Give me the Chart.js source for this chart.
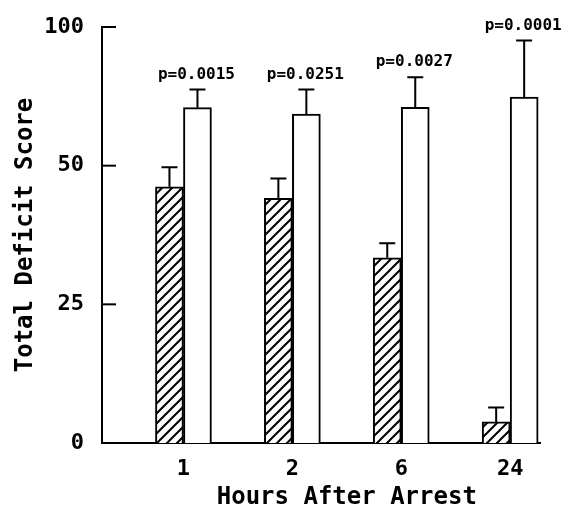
<!DOCTYPE html>
<html>
<head>
<meta charset="utf-8">
<script src="https://cdn.jsdelivr.net/npm/chart.js@4.4.1/dist/chart.umd.min.js"></script>
<style>
    body { margin: 0; background: #fff; }
    #chart { display: block; }
</style>
</head>
<body>
<canvas id="chart" width="565" height="513"></canvas>
<script>
const hours = ['1', '2', '6', '24'];
const yTickLabels = [0, 25, 50, 100];
const hatchedMeans = [46.2, 44.1, 33.4, 3.8];
const hatchedErr = [3.5, 3.6, 2.6, 2.6];
const openMeans = [70.9, 68.6, 71.0, 74.7];
const openErr = [6.6, 8.9, 10.9, 20.4];
const pValues = ['p=0.0015', 'p=0.0251', 'p=0.0027', 'p=0.0001'];
const xTitle = 'Hours After Arrest';

const FONT = "'DejaVu Sans Mono', monospace";

// the y axis labels 0, 25, 50, 100 sit at equal spacing, so map values piecewise
function toAxis(v) {
    for (let i = 0; i < yTickLabels.length - 1; i++) {
        const a = yTickLabels[i], b = yTickLabels[i + 1];
        if (v <= b || i === yTickLabels.length - 2) {
            return i + (v - a) / (b - a);
        }
    }
    return 0;
}

function makeHatch() {
    const s = 10;
    const c = document.createElement('canvas');
    c.width = s;
    c.height = s;
    const g = c.getContext('2d');
    g.fillStyle = '#fff';
    g.fillRect(0, 0, s, s);
    g.strokeStyle = '#000';
    g.lineWidth = 2;
    g.beginPath();
    g.moveTo(-1, s + 1); g.lineTo(s + 1, -1);
    g.moveTo(-1, 1); g.lineTo(1, -1);
    g.moveTo(s - 1, s + 1); g.lineTo(s + 1, s - 1);
    g.stroke();
    return g.createPattern(c, 'repeat');
}

const errorBars = {
    id: 'errorBars',
    afterDatasetsDraw(chart) {
        const ctx = chart.ctx;
        const yScale = chart.scales.y;
        const sets = [[hatchedMeans, hatchedErr], [openMeans, openErr]];
        ctx.save();
        ctx.strokeStyle = '#000';
        ctx.lineWidth = 2;
        sets.forEach(([means, errs], d) => {
            chart.getDatasetMeta(d).data.forEach((bar, i) => {
                const top = yScale.getPixelForValue(toAxis(means[i] + errs[i]));
                ctx.beginPath();
                ctx.moveTo(bar.x, bar.y);
                ctx.lineTo(bar.x, top);
                ctx.moveTo(bar.x - 8, top);
                ctx.lineTo(bar.x + 8, top);
                ctx.stroke();
                if (d === 1) {
                    ctx.fillStyle = '#000';
                    ctx.font = "bold 16px " + FONT;
                    ctx.textAlign = 'center';
                    ctx.textBaseline = 'middle';
                    ctx.fillText(pValues[i], bar.x - 1, top - 15);
                }
            });
        });
        ctx.restore();
    }
};

// inside tick marks on the y axis, and the x title centred under the groups
const axisExtras = {
    id: 'axisExtras',
    afterDraw(chart) {
        const ctx = chart.ctx;
        const yScale = chart.scales.y;
        const xScale = chart.scales.x;
        const left = chart.chartArea.left;
        ctx.save();
        ctx.strokeStyle = '#000';
        ctx.lineWidth = 2;
        yScale.ticks.forEach((t) => {
            if (t.value === 0) return;
            const y = yScale.getPixelForValue(t.value);
            ctx.beginPath();
            ctx.moveTo(left, y);
            ctx.lineTo(left + 14, y);
            ctx.stroke();
        });
        const cx = (xScale.getPixelForValue(1) + xScale.getPixelForValue(hours.length)) / 2;
        ctx.fillStyle = '#000';
        ctx.font = "bold 24px " + FONT;
        ctx.textAlign = 'center';
        ctx.textBaseline = 'middle';
        ctx.fillText(xTitle, cx, xScale.bottom - 15);
        ctx.restore();
    }
};

const data = {
    datasets: [{
        label: 'hatched',
        data: hatchedMeans.map((v, i) => ({ x: i + 1, y: toAxis(v) })),
        backgroundColor: makeHatch(),
        borderColor: '#000',
        borderWidth: 2,
        barThickness: 28
    }, {
        label: 'open',
        data: openMeans.map((v, i) => ({ x: i + 1, y: toAxis(v) })),
        backgroundColor: '#fff',
        borderColor: '#000',
        borderWidth: 2,
        barThickness: 28
    }]
};

const options = {
    responsive: false,
    animation: false,
    devicePixelRatio: 1,
    layout: { padding: { top: 27, right: 25, left: 0, bottom: 0 } },
    plugins: {
        legend: { display: false },
        tooltip: { enabled: false }
    },
    scales: {
        x: {
            type: 'linear',
            offset: false,
            min: 0.252,
            max: 4.274,
            afterBuildTicks: (scale) => { scale.ticks = hours.map((h, i) => ({ value: i + 1 })); },
            afterFit: (scale) => { scale.height = 70; },
            grid: { display: false, drawTicks: false },
            border: { display: true, color: '#000', width: 2 },
            ticks: {
                color: '#000',
                font: { family: FONT, size: 22, weight: 'bold' },
                padding: 13,
                maxRotation: 0,
                callback: (v) => hours[v - 1]
            }
        },
        y: {
            min: 0,
            max: yTickLabels.length - 1,
            afterBuildTicks: (scale) => { scale.ticks = yTickLabels.map((l, i) => ({ value: i })); },
            afterFit: (scale) => {
                scale.width = 102;
                scale.paddingTop = 10;
                scale.paddingBottom = 10;
            },
            grid: { display: false, drawTicks: false },
            border: { display: true, color: '#000', width: 2 },
            ticks: {
                color: '#000',
                font: { family: FONT, size: 22, weight: 'bold' },
                padding: 18,
                callback: (v) => String(yTickLabels[v])
            },
            title: {
                display: true,
                text: 'Total Deficit Score',
                color: '#000',
                font: { family: FONT, size: 24, weight: 'bold' },
                padding: { top: 11, bottom: 0 }
            }
        }
    }
};

new Chart(document.getElementById('chart'), {
    type: 'bar',
    data: data,
    options: options,
    plugins: [errorBars, axisExtras]
});
</script>
</body>
</html>
